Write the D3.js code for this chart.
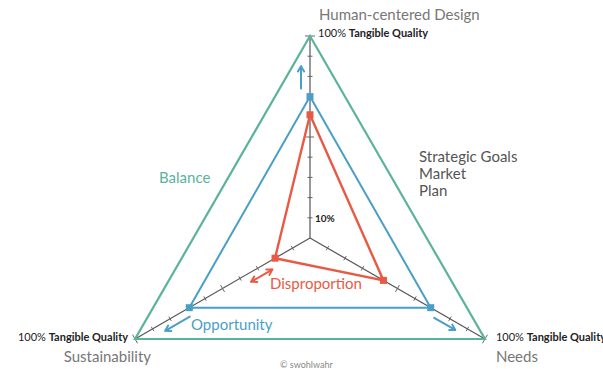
<!DOCTYPE html>
<html>
<head>
<meta charset="utf-8">
<script src="https://cdn.jsdelivr.net/npm/d3@7"></script>
<style>
  body { margin: 0; background: #fff; }
  svg { display: block; font-family: Lato, "Open Sans", sans-serif; }
</style>
</head>
<body>
<svg id="chart" width="603" height="369"></svg>
<script>
// axes, clockwise from the top
const axes = ["Human-centered Design", "Needs", "Sustainability"];
const angles = [-90, 30, 150];
const ticks = [0.1, 0.2, 0.3, 0.4, 0.5, 0.6, 0.7, 0.8, 0.9];

// triangles (share of 100% per axis)
const balance = [1, 1, 1];
const opportunity = [0.7, 0.69, 0.69];
const disproportion = [0.61, 0.42, 0.2];

// arrows: axis index, from, to, side offset (px), double headed
const arrows = [
    {axis: 0, from: 0.74, to: 0.85, off: 9, color: "#4a9fc6", both: false},
    {axis: 2, from: 0.71, to: 0.85, off: 8, color: "#4a9fc6", both: false},
    {axis: 1, from: 0.73, to: 0.85, off: -7, color: "#4a9fc6", both: false},
    {axis: 2, from: 0.24, to: 0.36, off: 8.5, color: "#e85a44", both: true}
];

const green = "#5bb39c", blue = "#4a9fc6", red = "#e85a44";
const svg = d3.select("#chart");
const cx = 310, cy = 238;
const r = d3.scaleLinear().domain([0, 1]).range([0, 202]);

function pt(i, v, off) {
    const a = angles[i] * Math.PI / 180;
    const dx = Math.cos(a), dy = Math.sin(a);
    off = off || 0;
    // offset perpendicular (dy, -dx)
    return [cx + dx * r(v) + dy * off, cy + dy * r(v) - dx * off];
}

const line = d3.line().curve(d3.curveLinearClosed);

// axes with tick marks
const axisG = svg.append("g");
axes.forEach((name, i) => {
    const end = pt(i, 1);
    axisG.append("line")
        .attr("x1", cx).attr("y1", cy).attr("x2", end[0]).attr("y2", end[1])
        .attr("stroke", "#555").attr("stroke-width", 1.2);
    ticks.concat([1]).forEach(t => {
        const len = t === 1 ? 5 : (t === 0.5 ? 4 : 2.5);
        const a = pt(i, t, len), b = pt(i, t, -len);
        axisG.append("line")
            .attr("x1", a[0]).attr("y1", a[1]).attr("x2", b[0]).attr("y2", b[1])
            .attr("stroke", "#666").attr("stroke-width", 1);
    });
});

// triangles
function tri(vals, color, w) {
    svg.append("path")
        .attr("d", line(vals.map((v, i) => pt(i, v))))
        .attr("fill", "none").attr("stroke", color)
        .attr("stroke-width", w).attr("stroke-linejoin", "miter");
}
tri(balance, green, 2.2);
tri(opportunity, blue, 2);
tri(disproportion, red, 2.4);

function squares(vals, color) {
    svg.append("g").selectAll("rect").data(vals).join("rect")
        .attr("x", (v, i) => pt(i, v)[0] - 3.5)
        .attr("y", (v, i) => pt(i, v)[1] - 3.5)
        .attr("width", 7).attr("height", 7)
        .attr("fill", color);
}
squares(opportunity, blue);
squares(disproportion, red);

// arrows
function head(tip, from, color) {
    const ang = Math.atan2(tip[1] - from[1], tip[0] - from[0]);
    const s = 6, w = 0.55;
    const p1 = [tip[0] - s * Math.cos(ang - w), tip[1] - s * Math.sin(ang - w)];
    const p2 = [tip[0] - s * Math.cos(ang + w), tip[1] - s * Math.sin(ang + w)];
    svg.append("path")
        .attr("d", `M${p1}L${tip}L${p2}`)
        .attr("fill", "none").attr("stroke", color).attr("stroke-width", 2)
        .attr("stroke-linecap", "round").attr("stroke-linejoin", "round");
}
arrows.forEach(d => {
    const a = pt(d.axis, d.from, d.off), b = pt(d.axis, d.to, d.off);
    svg.append("line")
        .attr("x1", a[0]).attr("y1", a[1]).attr("x2", b[0]).attr("y2", b[1])
        .attr("stroke", d.color).attr("stroke-width", 2).attr("stroke-linecap", "round");
    head(b, a, d.color);
    if (d.both) head(a, b, d.color);
});

// labels
function quality(x, y, anchor) {
    const t = svg.append("text").attr("x", x).attr("y", y)
        .attr("text-anchor", anchor).attr("font-size", 11).attr("fill", "#222");
    t.append("tspan").text("100% ");
    t.append("tspan").attr("font-weight", "bold").text("Tangible Quality");
}
function label(x, y, txt, color, size, anchor) {
    return svg.append("text").attr("x", x).attr("y", y)
        .attr("text-anchor", anchor || "start")
        .attr("font-size", size || 15).attr("fill", color).text(txt);
}

const vTop = pt(0, 1), vRight = pt(1, 1), vLeft = pt(2, 1);
quality(vTop[0] + 8, vTop[1] + 1, "start");
label(vTop[0] + 9, vTop[1] - 16, axes[0], "#777");
quality(vRight[0] + 11, vRight[1] + 2, "start");
label(vRight[0] + 11, vRight[1] + 23, axes[1], "#777");
quality(vLeft[0] - 7, vLeft[1] + 2, "end");
label(vLeft[0] + 16, vLeft[1] + 23, axes[2], "#777", 15, "end");

["Strategic Goals", "Market", "Plan"].forEach((s, i) =>
    label(cx + 109, cy - 76 + i * 17, s, "#555"));

label(cx - 151, cy - 55, "Balance", green);
label(cx - 40, cy + 51, "Disproportion", red);
label(cx - 119, cy + 92, "Opportunity", blue);

const ten = pt(0, 0.1);
svg.append("text").attr("x", ten[0] + 5).attr("y", ten[1] + 4)
    .attr("font-size", 10).attr("font-weight", "bold").attr("fill", "#222").text("10%");

label(cx - 30, 368, "© swohlwahr", "#888", 9);
</script>
</body>
</html>
